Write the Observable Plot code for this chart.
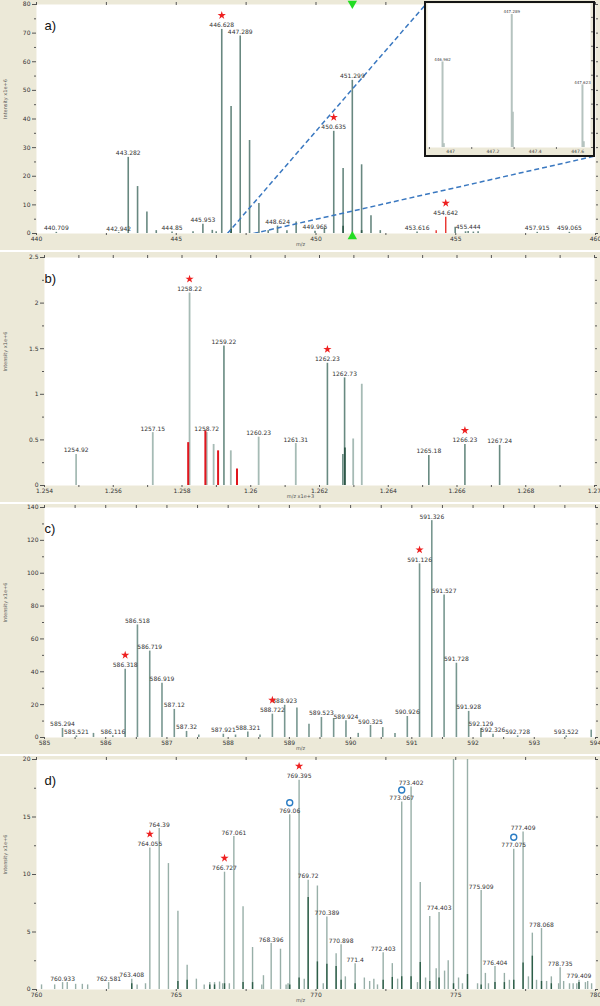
<!DOCTYPE html>
<html><head><meta charset="utf-8">
<script src="https://cdn.jsdelivr.net/npm/d3@7"></script>
<script src="https://cdn.jsdelivr.net/npm/@observablehq/plot@0.6"></script>
<style>
html,body{margin:0;padding:0;background:#fff}
body{width:600px;height:1006px;overflow:hidden;font-family:"DejaVu Sans",sans-serif}
.panel{position:relative;width:600px;height:250px;background:#ECE9D8;overflow:hidden}
.gap{height:2px;background:#fff}
#inset{position:absolute;left:424px;top:1px;width:171px;height:156px;box-sizing:border-box;border:2px solid #151515;background:#ECE9D8;overflow:hidden}
svg{display:block}
</style></head><body>
<div id="pa" class="panel"><div id="inset"></div></div><div class="gap"></div>
<div id="pb" class="panel"></div><div class="gap"></div>
<div id="pc" class="panel"></div><div class="gap"></div>
<div id="pd" class="panel"></div>
<script>
// ---------- Panel a) ----------
const aMz  = [440.709,442.942,443.282,443.616,443.95,444.285,444.85,445.6,445.953,446.29,446.43,446.628,446.962,447.289,447.623,447.957,448.29,448.624,448.96,449.29,449.965,450.3,450.635,450.97,451.299,451.632,451.967,452.3,453.616,454.98,455.35,455.444,455.63,455.8,457.915,459.065];
const aInt = [0.4,0.3,26.6,16.4,7.5,1.0,0.5,0.6,3.2,1.1,0.6,71.3,44.4,69.0,32.5,10.5,1.0,2.6,1.0,4.0,0.8,2.0,35.7,22.7,53.5,24.0,6.2,1.0,0.5,2.2,0.6,0.7,0.5,0.6,0.4,0.4];
const aDarkMz  = [446.962,450.97,451.632];
const aDarkInt = [1.5,2.5,1.0];
const aRedMz  = [454.3,454.642];
const aRedInt = [1.0,5.7];
const aLabels = [440.709,442.942,443.282,444.85,445.953,446.628,447.289,448.624,449.965,450.635,451.299,453.616,454.642,455.444,457.915,459.065];
const aStars  = [446.628,450.635,454.642];
const aMarkers = [451.3];
const aZoomLinks = [{x1:446.83,y1:0,x2:453.92,y2:80},{x1:447.76,y1:0,x2:460,y2:27.1}];
const aXTicks = [440,445,450,455,460];
const aYTicks = [0,10,20,30,40,50,60,70,80];

// inset (zoom of 446.9 - 447.66)
const insetMz  = [446.962,446.968,447.289,447.294,447.623,447.629];
const insetInt = [44.4,2.0,69.0,18.3,32.5,3.0];
const insetLabels = [446.962,447.289,447.623];
const insetXTicks = [447,447.2,447.4,447.6];

// ---------- Panel b) ----------
const bLightMz  = [1254.92,1257.15,1258.22,1258.72,1258.92,1259.42,1260.23,1261.31,1262.98,1263.23];
const bLightInt = [0.34,0.58,2.11,0.58,0.45,0.38,0.53,0.46,0.51,1.11];
const bMidMz  = [1259.22,1262.23,1262.68,1262.73,1265.18,1266.23,1267.24];
const bMidInt = [1.53,1.34,0.34,1.18,0.33,0.45,0.44];
const bDarkMz  = [1262.74];
const bDarkInt = [0.41];
const bRedMz  = [1258.18,1258.68,1259.05,1259.6];
const bRedInt = [0.47,0.60,0.38,0.18];
const bLabels = [1254.92,1257.15,1258.22,1258.72,1259.22,1260.23,1261.31,1262.23,1262.73,1265.18,1266.23,1267.24];
const bStars  = [1258.22,1262.23,1266.23];
const bXTicks = [1254,1256,1258,1260,1262,1264,1266,1268,1270];
const bYTicks = [0,0.5,1,1.5,2,2.5];

// ---------- Panel c) ----------
const cMz  = [585.294,585.521,585.8,586.116,586.318,586.518,586.719,586.919,587.12,587.32,587.52,587.921,588.12,588.321,588.52,588.722,588.923,589.123,589.32,589.523,589.723,589.924,590.124,590.325,590.525,590.725,590.926,591.126,591.326,591.527,591.728,591.928,592.129,592.326,592.728,593.522,593.93];
const cInt = [5.5,1.0,2.5,1.0,41.6,68.5,52.6,33.0,17.1,3.7,1.5,2.0,1.5,3.3,1.5,14.2,19.6,18.0,8.0,12.2,11.6,10.2,2.5,7.3,6.0,2.5,12.8,105.7,132.0,86.8,45.2,15.9,5.5,2.0,1.0,1.0,4.5];
const cLabels = [585.294,585.521,586.116,586.318,586.518,586.719,586.919,587.12,587.32,587.921,588.321,588.722,588.923,589.523,589.924,590.325,590.926,591.126,591.326,591.527,591.728,591.928,592.129,592.326,592.728,593.522];
const cStars  = [586.318,588.722,591.126];
const cXTicks = [585,586,587,588,589,590,591,592,593,594];
const cYTicks = [0,20,40,60,80,100,120,140];

// ---------- Panel d) ----------
const dMz  = [760.18,760.65,760.933,761.1,761.4,761.64,761.83,762.581,763.408,763.6,763.9,764.055,764.39,764.72,765.06,765.39,765.72,766.0,766.2,766.37,766.55,766.66,766.727,766.9,767.061,767.39,767.73,768.06,768.12,768.396,768.73,768.93,769.0,769.06,769.395,769.58,769.72,770.05,770.26,770.389,770.72,770.898,771.05,771.4,771.73,771.92,772.07,772.2,772.403,772.73,772.92,773.067,773.402,773.63,773.73,773.92,774.07,774.3,774.403,774.6,774.73,774.92,775.1,775.24,775.42,775.78,775.909,776.06,776.17,776.404,776.74,776.92,777.075,777.409,777.6,777.74,777.89,778.068,778.25,778.42,778.68,778.735,778.86,779.07,779.2,779.33,779.409,779.64,779.72,779.86];
const dInt = [0.4,0.4,0.6,0.6,0.45,0.45,0.4,0.6,0.9,0.4,0.5,12.3,14.0,10.95,6.8,2.1,0.9,0.4,0.6,0.6,0.65,0.5,10.2,0.5,13.3,7.2,3.65,0.4,1.2,4.0,3.5,0.4,0.5,15.2,18.2,0.9,9.5,9.0,0.5,6.3,3.1,3.9,1.1,2.25,1.0,0.7,0.9,0.4,3.2,2.25,0.9,16.3,17.6,0.6,9.3,1.0,6.35,1.8,6.7,1.6,2.5,22,1.0,0.5,22,0.5,8.6,1.4,0.5,2.0,1.4,0.8,12.2,13.7,1.1,4.9,0.8,5.3,0.7,1.1,0.5,1.9,0.7,0.5,0.5,0.5,0.8,0.6,0.7,0.5];
const dDarkMz  = [763.408,765.06,765.39,766.2,766.37,766.727,767.39,767.73,769.06,769.395,769.72,770.05,770.389,770.72,770.898,771.4,772.403,772.73,773.067,773.402,773.73,774.07,774.403,774.92,775.42,775.909,776.404,776.74,777.075,777.409,777.74,778.068,778.42,779.409];
const dDarkInt = [0.5,0.7,0.8,0.4,0.4,0.5,0.6,0.6,0.4,1.0,8.0,2.4,2.2,2.0,0.8,0.5,0.8,1.05,1.1,1.1,2.35,0.7,1.0,0.5,1.3,0.4,0.6,0.6,0.8,2.3,2.9,0.7,0.5,0.6];
const dLabels = [760.933,762.581,763.408,764.055,764.39,766.727,767.061,768.396,769.06,769.395,769.72,770.389,770.898,771.4,772.403,773.067,773.402,774.403,775.909,776.404,777.075,777.409,778.068,778.735,779.409];
const dStars   = [764.055,766.727,769.395];
const dCircles = [769.06,773.067,777.075];
const dXTicks = [760,765,770,775,780];
const dYTicks = [0,5,10,15,20];

// ---------- drawing ----------
const TXT = "#333";
function peaks(mz, val){ return mz.map((m,i)=>({mz:m, v:val[i]})); }

function panel(o){
  const W=600, H=250, mt=o.mt ?? 4, mb=17;
  const all = o.series.flatMap(s=>peaks(s.mz,s.int));
  const top = m => d3.max(all.filter(p=>Math.abs(p.mz-m)<0.004), p=>p.v) ?? 0;
  const lab = o.labels.map(m=>({mz:m, v:top(m), t:String(m)}));
  const star = (o.stars||[]).map(m=>({mz:m, v:top(m)}));
  const circ = (o.circles||[]).map(m=>({mz:m, v:top(m)}));
  const plotCenter = (o.ml + W - o.mr)/2;
  const marks = [
    Plot.frame({fill:"white", stroke:null}),
    Plot.axisY({ticks:o.yTicks, tickSize:4, tickPadding:2, tickFormat:o.yFmt, label:null, stroke:"#555", fill:TXT, fontSize:6}),
    Plot.axisY({ticks:o.yMinor, tickSize:2, tickFormat:()=>"", label:null, stroke:"#555"}),
    Plot.axisY({anchor:"right", ticks:o.yMinor.concat(o.yTicks), tickSize:2, tickFormat:()=>"", label:null, stroke:"#555"}),
    Plot.axisX({ticks:o.xTicks, tickSize:2, tickPadding:1, tickFormat:o.xFmt, label:null, stroke:"#555", fill:TXT, fontSize:6}),
    Plot.axisX({ticks:o.xMinor, tickSize:2, tickFormat:()=>"", label:null, stroke:"#555"}),
    Plot.axisX({anchor:"top", ticks:o.xMinor.concat(o.xTicks), tickSize:3, tickFormat:()=>"", label:null, stroke:"#555"}),
  ];
  for (const s of o.series){
    marks.push(Plot.ruleX(peaks(s.mz,s.int), {x:"mz", y1:0, y2:"v", stroke:s.color, strokeWidth:s.sw ?? 1.6, clip:true}));
  }
  if (o.extra) marks.push(...o.extra);
  marks.push(
    Plot.text(lab, {x:"mz", y:"v", text:"t", dy:-2, lineAnchor:"bottom", fontSize:6, fill:TXT}),
    Plot.dot(star, {x:"mz", y:"v", dy:-14, symbol:"star", r:2.6, fill:"#ee2020", stroke:null}),
    Plot.dot(circ, {x:"mz", y:"v", dy:-12, r:3, fill:"none", stroke:"#2a7cc4", strokeWidth:1.4}),
    Plot.text([o.tag], {frameAnchor:"top-left", dx:o.tagDx, dy:16, fontSize:13, fill:"#111", textAnchor:"start", fontFamily:"Liberation Sans, Arial, sans-serif"}),
    Plot.text([o.xLabel], {frameAnchor:"bottom", dx:300-plotCenter, dy:12, fontSize:5, fill:"#555"}),
    Plot.text(["Intensity x1e+6"], {frameAnchor:"left", dx:5-o.ml, rotate:-90, fontSize:5, fill:"#555"})
  );
  return Plot.plot({
    width:W, height:H, marginLeft:o.ml, marginRight:o.mr, marginTop:mt, marginBottom:mb,
    style:{background:"transparent", fontFamily:"DejaVu Sans, sans-serif", overflow:"visible"},
    x:{domain:o.xDomain}, y:{domain:o.yDomain},
    marks
  });
}

const half = (a,b,s)=>d3.range(a,b+1e-9,s);

// Panel a
const pa = panel({
  ml:36, mr:5, xDomain:[440,460], yDomain:[0,80], tag:"a)", tagDx:8, xLabel:"m/z",
  xTicks:aXTicks, xMinor:half(442.5,457.5,5), yTicks:aYTicks, yMinor:half(5,75,10),
  series:[{mz:aMz,int:aInt,color:"#688880",sw:1.6},{mz:aDarkMz,int:aDarkInt,color:"#2e5a4a",sw:1.6},{mz:aRedMz,int:aRedInt,color:"#e8322c",sw:1.4}],
  labels:aLabels, stars:aStars,
  extra:[
    Plot.link(aZoomLinks, {x1:"x1", y1:"y1", x2:"x2", y2:"y2", stroke:"#3a78c0", strokeWidth:1.5, strokeDasharray:"5,3", clip:true}),
    Plot.dot(aMarkers, {x:d=>d, frameAnchor:"top", dy:-1, symbol:"triangle", r:3.5, rotate:180, fill:"#22dd22", stroke:null}),
    Plot.dot(aMarkers, {x:d=>d, frameAnchor:"bottom", dy:3, symbol:"triangle", r:3.5, fill:"#22dd22", stroke:null})
  ]
});
document.getElementById("pa").prepend(pa);

// inset
const ins = Plot.plot({
  width:167, height:152, marginLeft:1, marginRight:3, marginTop:0, marginBottom:8,
  style:{background:"transparent", fontFamily:"DejaVu Sans, sans-serif", overflow:"visible"},
  x:{domain:[446.891,447.661]}, y:{domain:[0,74.7]},
  marks:[
    Plot.frame({fill:"white", stroke:null}),
    Plot.axisX({ticks:insetXTicks, tickSize:0, tickPadding:2, tickFormat:d=>String(d), label:null, fill:"#444", fontSize:4.5}),
    Plot.axisX({ticks:[446.9,447.1,447.3,447.5], tickSize:2, tickFormat:()=>"", label:null, stroke:"#666"}),
    Plot.axisY({anchor:"right", ticks:d3.range(0,75,7.5), tickSize:2, tickFormat:()=>"", label:null, stroke:"#666"}),
    Plot.ruleX(peaks(insetMz,insetInt), {x:"mz", y1:0, y2:"v", stroke:"#b5c3bf", strokeWidth:2}),
    Plot.text(insetLabels.map(m=>({mz:m, v:insetInt[insetMz.indexOf(m)], t:String(m)})), {x:"mz", y:"v", text:"t", dy:-1, lineAnchor:"bottom", fontSize:4, fill:"#444"})
  ]
});
document.getElementById("inset").append(ins);

// Panel b
const pb = panel({
  ml:44, mr:6, xDomain:[1254,1270], yDomain:[0,2.5], tag:"b)", tagDx:0, xLabel:"m/z x1e+3", mt:5,
  xTicks:bXTicks, xMinor:half(1255,1269,2), xFmt:d=>String(d/1000), yTicks:bYTicks, yMinor:half(0.25,2.25,0.5), yFmt:d=>String(d),
  series:[{mz:bLightMz,int:bLightInt,color:"#a6bbb5",sw:1.8},{mz:bMidMz,int:bMidInt,color:"#688a81",sw:1.6},{mz:bDarkMz,int:bDarkInt,color:"#254f3f",sw:1.6},{mz:bRedMz,int:bRedInt,color:"#e0161e",sw:2}],
  labels:bLabels, stars:bStars
});
document.getElementById("pb").append(pb);

// Panel c
const pc = panel({
  ml:44, mr:5, xDomain:[585,594], yDomain:[0,140], tag:"c)", tagDx:0, xLabel:"m/z", mt:3,
  xTicks:cXTicks, xMinor:half(585.5,593.5,1), yTicks:cYTicks, yMinor:half(10,130,20),
  series:[{mz:cMz,int:cInt,color:"#789790",sw:1.6}],
  labels:cLabels, stars:cStars
});
document.getElementById("pc").append(pc);

// Panel d
const pd = panel({
  ml:36, mr:5, xDomain:[760,780], yDomain:[0,20], tag:"d)", tagDx:8, xLabel:"m/z", mt:3,
  xTicks:dXTicks, xMinor:half(762.5,777.5,5), yTicks:dYTicks, yMinor:half(2.5,17.5,5),
  series:[{mz:dMz,int:dInt,color:"#98afa8",sw:1.4},{mz:dDarkMz,int:dDarkInt,color:"#2d5e48",sw:1.4}],
  labels:dLabels, stars:dStars, circles:dCircles
});
document.getElementById("pd").append(pd);
</script>
</body></html>
